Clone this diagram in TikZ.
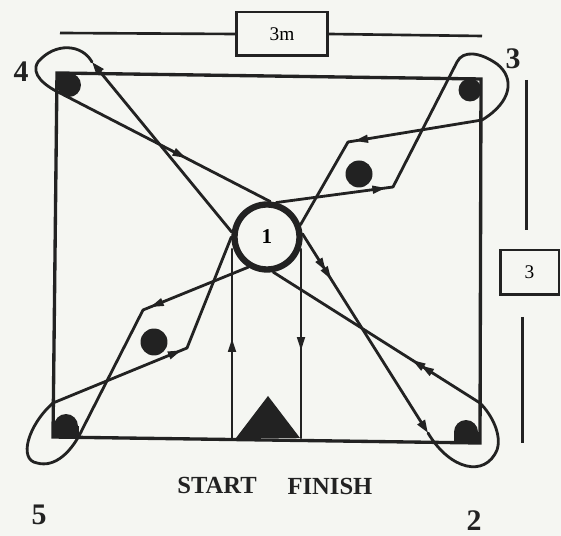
\documentclass[tikz,border=0pt]{standalone}
\usepackage{fontspec}
\setmainfont{Liberation Serif}
\usepackage{tikz}
\usetikzlibrary{arrows.meta,decorations.markings}
\definecolor{ink}{RGB}{34, 34, 34}
\definecolor{paper}{RGB}{245, 246, 242}
\newcommand{\runtip}{\fill (1.3mm,0mm) -- (-1.3mm,0.85mm) -- (-1.3mm,-0.85mm) -- cycle;}
\newcommand{\runtiptwo}{\runtip\fill (-0.8mm,0mm) -- (-3.3mm,0.85mm) -- (-3.3mm,-0.85mm) -- cycle;}

\begin{document}
\begin{tikzpicture}[x=0.02cm, y=-0.02cm,
  field/.style={ink, line width=1.9pt, line join=miter},
  route/.style={ink, line width=1.6pt, line cap=round, line join=round},
  endtip/.style={-{Triangle[length=2.6mm,width=1.7mm]}},
  arrowat/.style={postaction={decorate}, decoration={markings, mark=at position #1 with {\runtip}}},
  dblarrowat/.style={postaction={decorate}, decoration={markings, mark=at position #1 with {\runtiptwo}}},
  cone/.style={fill=ink},
  dimbox/.style={draw=ink, line width=1.7pt, inner sep=0pt, font=\fontsize{11}{11}\selectfont},
  corner/.style={ink, font=\bfseries\fontsize{17}{17}\selectfont},
  lbl/.style={ink, font=\bfseries\fontsize{14}{14}\selectfont}]
\fill[paper] (0,0) rectangle (561,536);
\useasboundingbox (0,0) rectangle (561,536);

% playing area
\draw[field] (57,73) -- (481,79) -- (480,443) -- (53,437) -- cycle;

% dimensions
\node[dimbox, minimum width=1.82cm, minimum height=0.88cm] (w3m) at (282,34) {3m};
\coordinate (wl) at (60,33);
\coordinate (wr) at (482,36);
\draw[ink, line width=1.5pt] (wl) -- (w3m.west);
\draw[ink, line width=1.5pt] (w3m.east) -- (wr);
\node[dimbox, minimum width=1.18cm, minimum height=0.9cm] (h3) at (529.5,272.5) {3};
\coordinate (ht) at (526,80);
\coordinate (hb) at (522,443);
\draw[ink, line width=1.7pt] (ht) -- (ht |- 0,230);
\draw[ink, line width=1.7pt] (hb |- 0,317) -- (hb);

% cones
\fill[cone] (57,73) rectangle (69,85);
\fill[cone] (69,85) circle[radius=0.24cm];
\fill[cone] (470,90) circle[radius=0.23cm];
\fill[cone] (454,432) rectangle (480,443);
\fill[cone] (466,432) circle[radius=0.24cm];
\fill[cone] (53,426) rectangle (79,437);
\fill[cone] (66,426) circle[radius=0.24cm];
\fill[cone] (359,174) circle[radius=0.27cm];
\fill[cone] (154,342) circle[radius=0.27cm];
\fill[cone] (236,438) -- (268,396) -- (300,438) -- cycle;

% centre cone 1
\node[draw=ink, fill=paper, circle, line width=3.6pt, minimum size=1.3cm, inner sep=0pt,
  font=\bfseries\fontsize{12}{12}\selectfont] (c1) at (267,237) {1};

% way points
\coordinate (s) at (232,438);
\coordinate (f) at (301,438);
\coordinate (c2a) at (428,433);
\coordinate (c2b) at (480,403);
\coordinate (d5a) at (143,310);
\coordinate (c5a) at (83,428);
\coordinate (c5b) at (53,403);
\coordinate (d5b) at (187,348);
\coordinate (c4a) at (92,62);
\coordinate (c4b) at (60,93);
\coordinate (d3a) at (393,187);
\coordinate (c3a) at (457,62);
\coordinate (c3b) at (482,120);
\coordinate (d3b) at (348,142);

% run
\draw[route, arrowat=0.49] (s) -- (s |- c1.200);
\draw[route, endtip, dblarrowat=0.2] (c1.5) -- (c2a);
\draw[route] (c2a) .. controls (450,470) and (485,478) .. (497,450) .. controls (502,435) and (492,415) .. (c2b);
\draw[route, dblarrowat=0.3] (c2b) -- (c1.-80);
\draw[route, arrowat=0.87] (c1.238) -- (d5a);
\draw[route] (d5a) -- (c5a) .. controls (72,452) and (55,468) .. (37,463) .. controls (18,460) and (28,425) .. (c5b);
\draw[route, arrowat=0.91] (c5b) -- (d5b);
\draw[route] (d5b) -- (c1.180);
\draw[route, endtip] (c1.172) -- (c4a);
\draw[route] (c4a) .. controls (82,44) and (55,42) .. (38,62) .. controls (30,74) and (45,86) .. (c4b);
\draw[route, arrowat=0.57] (c4b) -- (c1.85);
\draw[route, arrowat=0.88] (c1.75) -- (d3a);
\draw[route] (d3a) -- (c3a) .. controls (463,50) and (480,52) .. (497,64) .. controls (515,78) and (512,102) .. (c3b);
\draw[route, arrowat=0.9] (c3b) -- (d3b);
\draw[route] (d3b) -- (c1.20);
\draw[route, arrowat=0.5] (f |- c1.-20) -- (f);

% labels
\node[corner] (n4) at (21,72) {4};
\node[corner] (n3) at (513,59) {3};
\node[corner] (n5) at (39,515) {5};
\node[corner] (n2) at (474,521) {2};
\node[lbl] (start) at (217,485) {START};
\node[lbl] (finish) at (330,486) {FINISH};
\end{tikzpicture}
\end{document}
